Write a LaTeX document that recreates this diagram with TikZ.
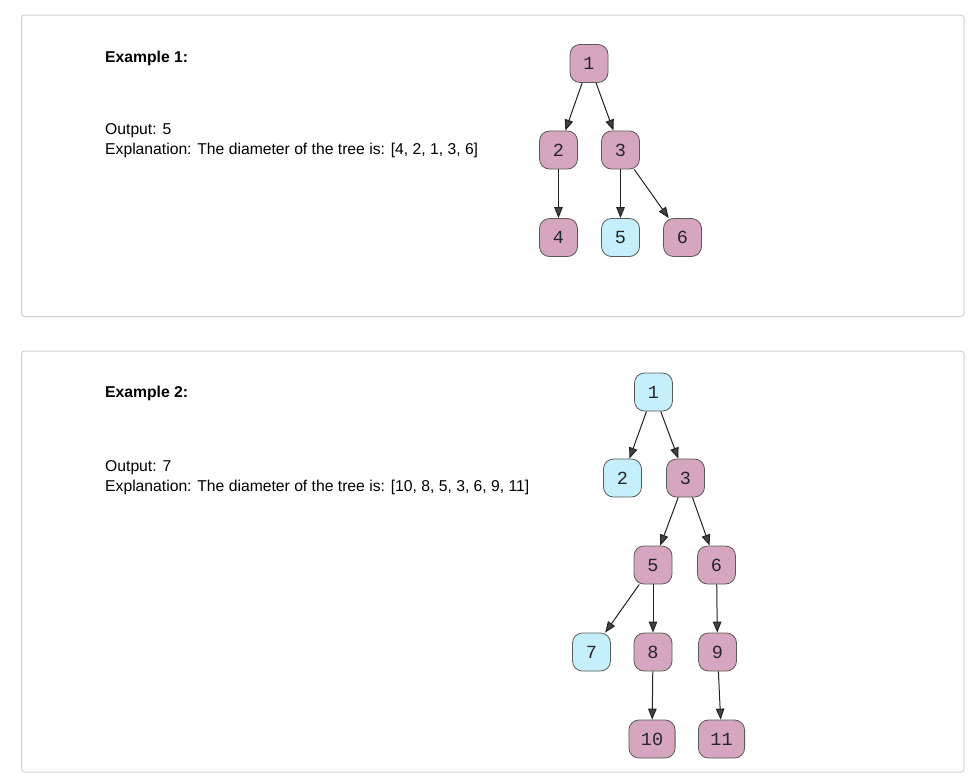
\documentclass[tikz,border=0pt]{standalone}
\usepackage{fontspec}
\setmainfont{Liberation Sans}
\newfontfamily\nodefont{Liberation Mono}
\usetikzlibrary{arrows.meta}
\definecolor{pinkfill}{HTML}{D5A6BD}
\definecolor{bluefill}{HTML}{C6EFFC}
\definecolor{nodeborder}{HTML}{5A5A5A}
\definecolor{panelborder}{HTML}{D3D3D3}
\definecolor{edgecol}{HTML}{222222}
\tikzset{
  panel/.style={draw=panelborder, line width=1pt, rounded corners=3pt},
  tnode/.style={draw=nodeborder, line width=0.8pt, rounded corners=10pt,
    minimum width=38pt, minimum height=38pt, inner xsep=12pt, inner ysep=0pt,
    font=\nodefont\fontsize{18.5}{18.5}\selectfont, text=black!85},
  pnode/.style={tnode, fill=pinkfill},
  bnode/.style={tnode, fill=bluefill},
  edge/.style={draw=edgecol, line width=1pt,
    -{Triangle[length=11pt,width=8.5pt,fill=edgecol!85!white]}},
  label/.style={anchor=base west, inner sep=0pt, font=\fontsize{15.7}{20}\selectfont},
  title/.style={label, font=\bfseries\fontsize{15.7}{20}\selectfont}
}
\begin{document}
\begin{tikzpicture}[x=1pt,y=-1pt]
\useasboundingbox (0,0) rectangle (974,782);
\fill[white] (0,0) rectangle (974,782);
% panels
\draw[panel] (21.5,15) rectangle (964,316.5);
\draw[panel] (21.5,351) rectangle (964,772);
% texts example 1
\node[title] (t1) at (105,62) {Example 1:};
\node[label] (o1) at (105,134) {Output: 5};
\node[label] (e1) at (105,154) {Explanation: The diameter of the tree is: [4, 2, 1, 3, 6]};
% texts example 2
\node[title] (t2) at (105,397) {Example 2:};
\node[label] (o2) at (105,471) {Output: 7};
\node[label] (e2) at (105,491) {Explanation: The diameter of the tree is: [10, 8, 5, 3, 6, 9, 11]};
% tree 1
\node[pnode] (a1) at (589,63.5) {1};
\node[pnode] (a2) at (558.5,150) {2};
\node[pnode] (a3) at (620.5,150) {3};
\node[pnode] (a4) at (558.5,237.5) {4};
\node[bnode] (a5) at (620.5,237.5) {5};
\node[pnode] (a6) at (682.5,237.5) {6};
\draw[edge] (a1) -- (a2);
\draw[edge] (a1) -- (a3);
\draw[edge] (a2) -- (a4);
\draw[edge] (a3) -- (a5);
\draw[edge] (a3) -- (a6);
% tree 2
\node[bnode] (b1) at (653.5,392) {1};
\node[bnode] (b2) at (622.5,478) {2};
\node[pnode] (b3) at (685.5,478) {3};
\node[pnode] (b5) at (653,565) {5};
\node[pnode] (b6) at (716.5,565) {6};
\node[bnode] (b7) at (591.5,652) {7};
\node[pnode] (b8) at (653,652) {8};
\node[pnode] (b9) at (717.5,652) {9};
\node[pnode] (b10) at (652,739) {10};
\node[pnode] (b11) at (721.5,739) {11};
\draw[edge] (b1) -- (b2);
\draw[edge] (b1) -- (b3);
\draw[edge] (b3) -- (b5);
\draw[edge] (b3) -- (b6);
\draw[edge] (b5) -- (b7);
\draw[edge] (b5) -- (b8);
\draw[edge] (b6) -- (b9);
\draw[edge] (b8) -- (b10);
\draw[edge] (b9) -- (b11);
\end{tikzpicture}
\end{document}
